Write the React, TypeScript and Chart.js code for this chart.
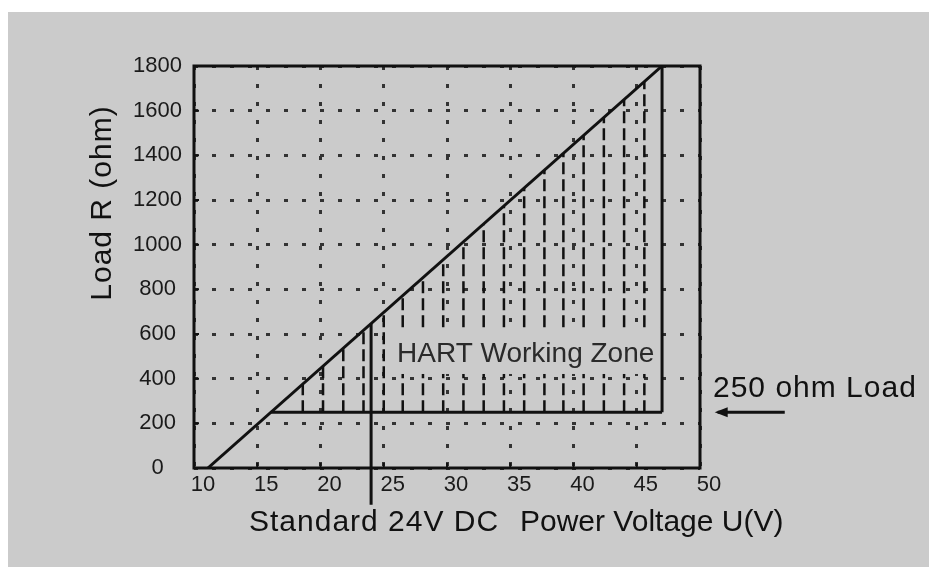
import React, { useEffect, useRef } from "react";
import { Chart, registerables } from "chart.js";

Chart.register(...registerables);

// ---- data ----
const xTickValues = [10, 15, 20, 25, 30, 35, 40, 45, 50];
const yTickValues = [0, 200, 400, 600, 800, 1000, 1200, 1400, 1600, 1800];

// maximum load line (voltage -> load R)
const loadLineX = [11.1, 47.0];
const loadLineY = [0, 1800];

// 250 ohm minimum load line
const minLoadX = [16.1, 47.0];
const minLoadY = [250, 250];

// right edge of the working zone
const zoneEdgeX = [47.0, 47.0];
const zoneEdgeY = [250, 1800];

// standard 24V DC marker
const standardX = [24, 24];
const standardY = [647, -165];

// hatch lines of the working zone
const hatchX = [18.6, 20.2, 21.8, 23.4, 25.0, 26.5, 28.1, 29.7, 31.3, 32.9, 34.5, 36.1, 37.7, 39.2, 40.8, 42.4, 44.0, 45.6];
const hatchTop = [376, 456, 536, 617, 697, 772, 852, 933, 1013, 1093, 1173, 1254, 1334, 1409, 1489, 1569, 1650, 1730];
const hatchBase = 250;

// arrow pointing at the 250 ohm line
const arrowX = [51.4, 56.7];
const arrowY = [250, 250];

const BG = "#cbcbcb";
const FONT = '"Liberation Sans", Arial, Helvetica, sans-serif';

export default function App() {
  const ref = useRef<HTMLCanvasElement>(null);

  useEffect(() => {
    document.documentElement.style.overflow = "hidden";
    document.body.style.overflow = "hidden";
    const canvas = ref.current!;

    const pts = (xs: number[], ys: number[]) => xs.map((x, i) => ({ x, y: ys[i] }));
    const hatchData: { x: number; y: number | null }[] = [];
    hatchX.forEach((x, i) => {
      hatchData.push({ x, y: hatchBase });
      hatchData.push({ x, y: hatchTop[i] });
      hatchData.push({ x, y: null });
    });

    const decor = {
      id: "decor",
      beforeDraw(chart: any) {
        const { ctx, width, height } = chart;
        ctx.save();
        ctx.fillStyle = BG;
        ctx.fillRect(0, 0, width, height);
        ctx.restore();
      },
      afterDatasetsDraw(chart: any) {
        const { ctx, chartArea: a, scales } = chart;
        const x = scales.x;
        const y = scales.y;
        ctx.save();
        // label box of the working zone
        const bx1 = x.getPixelForValue(25.5);
        const bx2 = x.getPixelForValue(46.8);
        const by1 = y.getPixelForValue(627);
        const by2 = y.getPixelForValue(421);
        ctx.fillStyle = BG;
        ctx.fillRect(bx1, by1, bx2 - bx1, by2 - by1);
        ctx.fillStyle = "#2a2a2a";
        ctx.font = `28px ${FONT}`;
        ctx.textAlign = "left";
        ctx.textBaseline = "alphabetic";
        ctx.fillText("HART Working Zone", x.getPixelForValue(26.05), y.getPixelForValue(474));

        // frame
        ctx.setLineDash([]);
        ctx.strokeStyle = "#111";
        ctx.lineWidth = 3;
        ctx.strokeRect(a.left, a.top, a.right - a.left, a.bottom - a.top);

        // inside ticks
        ctx.lineWidth = 2;
        ctx.beginPath();
        for (const v of xTickValues) {
          const px = x.getPixelForValue(v);
          ctx.moveTo(px, a.bottom);
          ctx.lineTo(px, a.bottom - 5);
        }
        for (const v of yTickValues) {
          const py = y.getPixelForValue(v);
          ctx.moveTo(a.left, py);
          ctx.lineTo(a.left + 5, py);
        }
        ctx.stroke();

        // arrow head at the start of the arrow line
        const ax = x.getPixelForValue(arrowX[0]);
        const ay = y.getPixelForValue(arrowY[0]);
        ctx.fillStyle = "#111";
        ctx.beginPath();
        ctx.moveTo(ax - 3, ay);
        ctx.lineTo(ax + 10, ay - 5);
        ctx.lineTo(ax + 10, ay + 5);
        ctx.closePath();
        ctx.fill();
        ctx.restore();
      },
      afterDraw(chart: any) {
        const { ctx } = chart;
        ctx.save();
        ctx.fillStyle = "#111";
        ctx.textAlign = "left";
        ctx.textBaseline = "alphabetic";
        ctx.font = `30px ${FONT}`;
        (ctx as any).letterSpacing = "1px";
        ctx.fillText("250 ohm Load", 705, 385);
        ctx.fillText("Standard 24V DC", 241, 519);
        (ctx as any).letterSpacing = "0px";
        ctx.fillText("Power Voltage U(V)", 512, 519);

        ctx.save();
        ctx.translate(95, 191);
        ctx.rotate(-Math.PI / 2);
        ctx.textAlign = "center";
        ctx.textBaseline = "middle";
        (ctx as any).letterSpacing = "1px";
        ctx.fillText("Load R (ohm)", 0, 0);
        ctx.restore();
        ctx.restore();
      },
    };

    const lineStyle = {
      borderColor: "#111",
      borderWidth: 3,
      pointRadius: 0,
      fill: false,
      tension: 0,
    };

    const chart = new Chart(canvas, {
      type: "line",
      data: {
        datasets: [
          { ...lineStyle, label: "max load", data: pts(loadLineX, loadLineY), order: 1 },
          { ...lineStyle, label: "250 ohm", data: pts(minLoadX, minLoadY), order: 1 },
          { ...lineStyle, label: "zone edge", data: pts(zoneEdgeX, zoneEdgeY), order: 1 },
          { ...lineStyle, label: "24V", data: pts(standardX, standardY), clip: false, order: 1 },
          {
            label: "hatch",
            data: hatchData as any,
            borderColor: "#111",
            borderWidth: 2.5,
            borderDash: [12, 5],
            pointRadius: 0,
            spanGaps: false,
            order: 5,
          },
          { ...lineStyle, label: "arrow", data: pts(arrowX, arrowY), clip: false, order: 1 },
        ],
      },
      options: {
        animation: false,
        responsive: false,
        layout: { padding: { left: 0, top: 54, right: 237, bottom: 0 } },
        plugins: { legend: { display: false }, tooltip: { enabled: false } },
        scales: {
          x: {
            type: "linear",
            min: 10,
            max: 50,
            afterFit: (s: any) => {
              s.height = 99;
            },
            afterBuildTicks: (s: any) => {
              s.ticks = xTickValues.map((v) => ({ value: v }));
            },
            ticks: {
              font: { family: FONT, size: 22 },
              color: "#1a1a1a",
              padding: 4,
              labelOffset: 9,
              maxRotation: 0,
              autoSkip: false,
              callback: (v: any) => String(v),
            },
            grid: { color: "#333", lineWidth: 3, drawTicks: false },
            border: { display: false, dash: [4, 14] },
          },
          y: {
            type: "linear",
            min: 0,
            max: 1800,
            afterFit: (s: any) => {
              s.width = 186;
            },
            afterBuildTicks: (s: any) => {
              s.ticks = yTickValues.map((v) => ({ value: v }));
            },
            ticks: {
              font: { family: FONT, size: 22 },
              color: "#1a1a1a",
              padding: 12,
              crossAlign: "center",
              autoSkip: false,
              callback: (v: any) => String(v),
            },
            grid: { color: "#333", lineWidth: 3, drawTicks: false },
            border: { display: false, dash: [4, 14] },
          },
        },
      },
      plugins: [decor],
    } as any);

    return () => chart.destroy();
  }, []);

  return (
    <div style={{ paddingTop: 4 }}>
      <canvas ref={ref} width={929} height={555} style={{ display: "block" }} />
    </div>
  );
}
